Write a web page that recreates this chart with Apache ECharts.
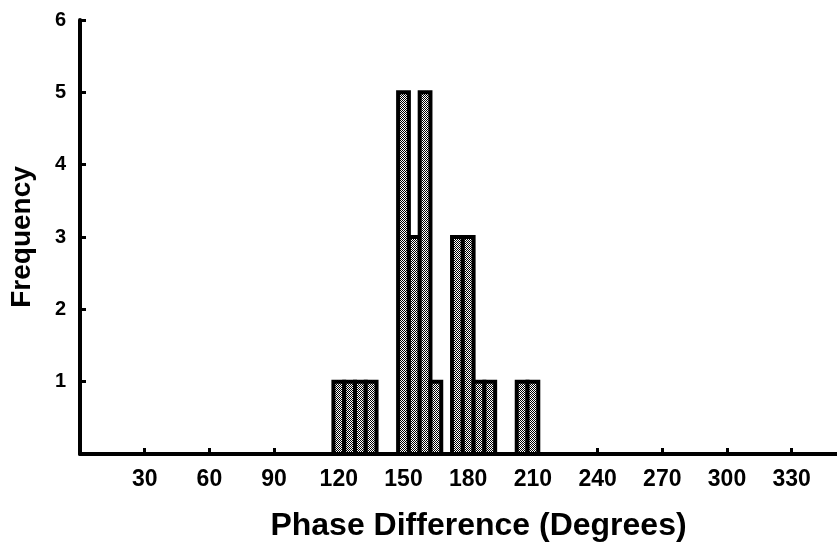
<!DOCTYPE html>
<html>
<head>
<meta charset="utf-8">
<script src="https://cdn.jsdelivr.net/npm/echarts@6/dist/echarts.min.js"></script>
<style>
  html, body { margin: 0; padding: 0; background: #fff; }
  #chart { width: 837px; height: 547px; }
</style>
</head>
<body>
<div id="chart"></div>
<script>
// histogram bins (centre of each 5 degree bin) and counts
const binCenters = [120, 125, 130, 135, 150, 155, 160, 165, 175, 180, 185, 190, 205, 210];
const binCounts = [1, 1, 1, 1, 5, 3, 5, 1, 3, 3, 1, 1, 1, 1];
const binWidth = 5;
const xTicks = [30, 60, 90, 120, 150, 180, 210, 240, 270, 300, 330];
const yTicks = [1, 2, 3, 4, 5, 6];

// checkered fill like the printed hatch
let pat = document.createElement('canvas');
pat.width = 2; pat.height = 2;
let pctx = pat.getContext('2d');
pctx.fillStyle = '#ffffff';
pctx.fillRect(0, 0, 2, 2);
pctx.fillStyle = '#000000';
pctx.fillRect(0, 0, 1, 1);
pctx.fillRect(1, 1, 1, 1);

const fontFamily = '"Liberation Sans", Arial, sans-serif';

let chart = echarts.init(document.getElementById('chart'));
chart.setOption({
  animation: false,
  backgroundColor: '#ffffff',
  grid: { left: 79, right: 0, top: 20, bottom: 92 },
  xAxis: {
    type: 'value',
    min: 0,
    max: 351,
    name: 'Phase Difference (Degrees)',
    nameLocation: 'middle',
    nameGap: 56,
    nameTextStyle: { color: '#000', fontSize: 32, fontWeight: 'bold', fontFamily: fontFamily, padding: [0, 0, 0, 40] },
    splitLine: { show: false },
    axisLine: { lineStyle: { color: '#000', width: 4 } },
    axisTick: { show: true, inside: true, length: 6, customValues: xTicks, lineStyle: { color: '#000', width: 3 } },
    axisLabel: { customValues: xTicks, margin: 14, color: '#000', fontSize: 23, fontWeight: 'bold', fontFamily: fontFamily }
  },
  yAxis: {
    type: 'value',
    min: 0,
    max: 6,
    name: 'Frequency',
    nameLocation: 'middle',
    nameRotate: 90,
    nameGap: 44,
    nameTextStyle: { color: '#000', fontSize: 28, fontWeight: 'bold', fontFamily: fontFamily },
    splitLine: { show: false },
    axisLine: { show: true, lineStyle: { color: '#000', width: 4 } },
    axisTick: { show: true, inside: true, length: 6, customValues: yTicks, lineStyle: { color: '#000', width: 3 } },
    axisLabel: { customValues: yTicks, margin: 14, color: '#000', fontSize: 20, fontWeight: 'bold', fontFamily: fontFamily }
  },
  series: [{
    type: 'custom',
    data: binCenters.map((c, i) => [c - binWidth / 2, c + binWidth / 2, binCounts[i]]),
    encode: { x: [0, 1], y: 2 },
    renderItem: function (params, api) {
      let p0 = api.coord([api.value(0), 0]);
      let p1 = api.coord([api.value(1), api.value(2)]);
      return {
        type: 'rect',
        shape: { x: p0[0], y: p1[1], width: p1[0] - p0[0], height: p0[1] - p1[1] },
        style: { fill: { image: pat, repeat: 'repeat' }, stroke: '#000', lineWidth: 4 }
      };
    }
  }]
});
</script>
</body>
</html>
